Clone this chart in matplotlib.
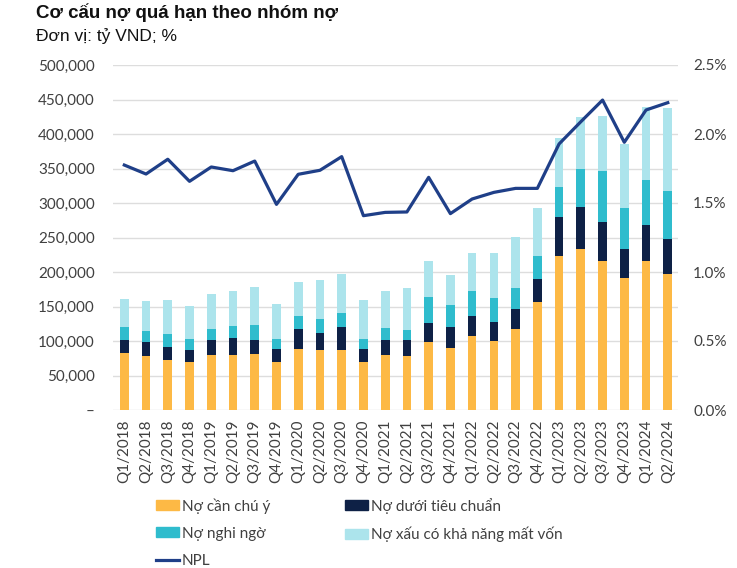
import matplotlib
matplotlib.use("Agg")
import matplotlib.pyplot as plt
import numpy as np
from matplotlib.ticker import FuncFormatter, MultipleLocator
from matplotlib.patches import Patch
from matplotlib.lines import Line2D

quarters = ["Q1/2018", "Q2/2018", "Q3/2018", "Q4/2018",
            "Q1/2019", "Q2/2019", "Q3/2019", "Q4/2019",
            "Q1/2020", "Q2/2020", "Q3/2020", "Q4/2020",
            "Q1/2021", "Q2/2021", "Q3/2021", "Q4/2021",
            "Q1/2022", "Q2/2022", "Q3/2022", "Q4/2022",
            "Q1/2023", "Q2/2023", "Q3/2023", "Q4/2023",
            "Q1/2024", "Q2/2024"]

no_can_chu_y = [82000, 78000, 73000, 70000, 79000, 80000, 81000, 70000,
                88000, 86500, 86500, 70000, 79000, 78000, 98000, 90000,
                107000, 100000, 118000, 156000, 223000, 234000, 216000, 191000,
                216000, 197000]
no_duoi_tieu_chuan = [19000, 21000, 19000, 17000, 22000, 24000, 20000, 19000,
                      29000, 25500, 34000, 18000, 22500, 23000, 28000, 31000,
                      29500, 28000, 28000, 34000, 57000, 60000, 57000, 43000,
                      52000, 51000]
no_nghi_ngo = [19000, 15000, 18000, 16000, 17000, 18000, 22000, 14000,
               19000, 20000, 20000, 15500, 17500, 15500, 37500, 30500,
               36000, 34000, 31500, 33000, 43000, 56000, 74000, 59000,
               65000, 69000]
no_mat_von = [40500, 44000, 49000, 48000, 50000, 50000, 55000, 51000,
              49000, 56500, 56000, 55500, 54000, 61000, 53000, 44500,
              54500, 65000, 73000, 70000, 71000, 74000, 79000, 93000,
              106000, 120000]
npl = [1.775, 1.71, 1.817, 1.657, 1.761, 1.734, 1.804, 1.49,
       1.708, 1.737, 1.836, 1.408, 1.432, 1.435, 1.686, 1.423,
       1.529, 1.577, 1.606, 1.606, 1.928, 2.089, 2.246, 1.940,
       2.174, 2.227]

labels = ["Nợ cần chú ý", "Nợ dưới tiêu chuẩn", "Nợ nghi ngờ",
          "Nợ xấu có khả năng mất vốn", "NPL"]
colors = ["#FDB945", "#0E2146", "#2FBCCD", "#ACE4EC"]
line_color = "#1F3F88"
tick_color = "#404040"
tick_font = "Lato"

W, H = 737, 568
fig = plt.figure(figsize=(W / 100, H / 100), dpi=100)
ax = fig.add_axes([113 / W, 1 - 410 / H, (678 - 113) / W, (410 - 65) / H])

x = np.arange(len(quarters))
series = [no_can_chu_y, no_duoi_tieu_chuan, no_nghi_ngo, no_mat_von]
bottom = np.zeros(len(quarters))
for vals, c in zip(series, colors):
    ax.bar(x, vals, bottom=bottom, width=0.4, color=c, zorder=2)
    bottom += np.array(vals)

ax.set_xlim(-0.52, len(quarters) - 0.53)
ax.set_ylim(0, 500000)
ax.yaxis.set_major_locator(MultipleLocator(50000))
ax.yaxis.set_major_formatter(FuncFormatter(lambda v, p: "–" if v == 0 else f"{int(v):,}"))
ax.grid(axis="y", color="#DDDDDD", linewidth=1.0, zorder=0)
ax.set_axisbelow(True)
for s in ax.spines.values():
    s.set_visible(False)
ax.set_xticks(x)
ax.set_xticklabels(quarters, rotation=90)
ax.tick_params(axis="both", length=0, colors=tick_color)
ax.tick_params(axis="y", pad=13)
ax.tick_params(axis="x", pad=7)
for t in ax.get_xticklabels() + ax.get_yticklabels():
    t.set_fontfamily(tick_font)
    t.set_fontsize(11)

ax2 = ax.twinx()
ax2.plot(x, npl, color=line_color, linewidth=2.3, zorder=5)
ax2.set_ylim(0, 2.5)
ax2.yaxis.set_major_locator(MultipleLocator(0.5))
ax2.yaxis.set_major_formatter(FuncFormatter(lambda v, p: f"{v:.1f}%"))
for s in ax2.spines.values():
    s.set_visible(False)
ax2.tick_params(axis="y", length=0, colors=tick_color, pad=11)
for t in ax2.get_yticklabels():
    t.set_fontfamily(tick_font)
    t.set_fontsize(11)

fig.text(36 / W, 1 - 18.5 / H, "Cơ cấu nợ quá hạn theo nhóm nợ",
         fontsize=13.5, fontweight="bold", family="Liberation Sans",
         color="#111111", va="baseline", ha="left")
fig.text(36 / W, 1 - 41.5 / H, "Đơn vị: tỷ VND; %",
         fontsize=12.5, family="Liberation Sans",
         color="#111111", va="baseline", ha="left")

handles = [Patch(color=colors[0]), Patch(color=colors[2]),
           Line2D([0], [0], color=line_color, linewidth=2.3),
           Patch(color=colors[1]), Patch(color=colors[3])]
hlabels = [labels[0], labels[2], labels[4], labels[1], labels[3]]
leg = fig.legend(handles, hlabels, ncol=2, loc="upper left",
                 bbox_to_anchor=(142 / W, 1 - 484 / H), frameon=False,
                 prop={"family": tick_font, "size": 11},
                 handlelength=1.5, handleheight=0.6, handletextpad=0.2,
                 labelspacing=0.85, columnspacing=4.9)
for t in leg.get_texts():
    t.set_color(tick_color)

fig.savefig("out.png", dpi=100)
